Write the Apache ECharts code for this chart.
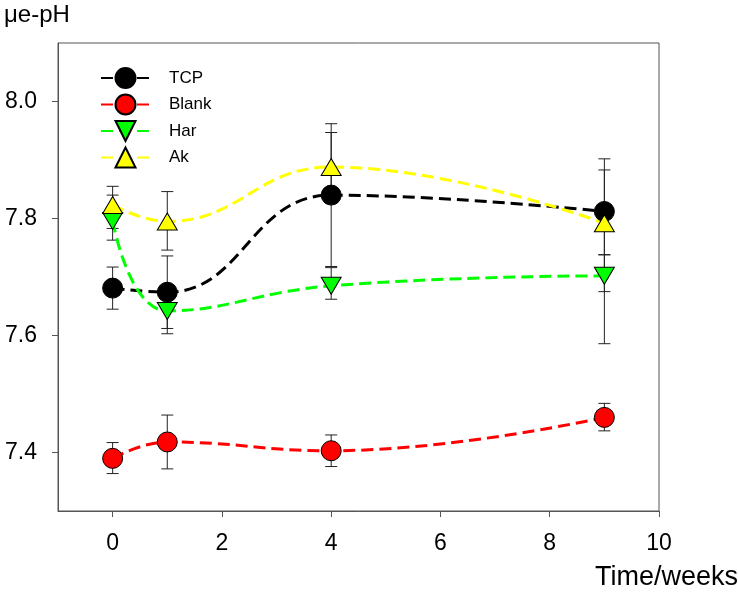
<!DOCTYPE html>
<html>
<head>
<meta charset="utf-8">
<script src="https://cdn.jsdelivr.net/npm/echarts@6/dist/echarts.min.js"></script>
<style>
  html, body { margin: 0; padding: 0; background: #fff; }
  #chart { width: 738px; height: 593px; }
</style>
</head>
<body>
<div id="chart"></div>
<script>
// time points (weeks)
const weeks = [0, 1, 4, 9]

// mean pH and error bar ends for each group
const tcpPH = [7.681, 7.674, 7.840, 7.812]
const tcpLow = [7.645, 7.612, 7.718, 7.738]
const tcpHigh = [7.717, 7.736, 7.962, 7.902]

const blankPH = [7.390, 7.418, 7.403, 7.460]
const blankLow = [7.364, 7.372, 7.376, 7.437]
const blankHigh = [7.417, 7.464, 7.430, 7.484]

const harPH = [7.796, 7.642, 7.685, 7.702]
const harLow = [7.763, 7.603, 7.662, 7.675]
const harHigh = [7.840, 7.680, 7.716, 7.738]

const akPH = [7.823, 7.795, 7.888, 7.792]
const akLow = [7.783, 7.746, 7.826, 7.586]
const akHigh = [7.855, 7.846, 7.947, 7.883]

const xTicks = [0, 2, 4, 6, 8, 10]
const yTicks = [7.4, 7.6, 7.8, 8.0]

const font = 'Liberation Sans, Arial, sans-serif'

const chart = echarts.init(document.getElementById('chart'))

// 误差线 (error bars) as custom series
const errorSeries = (low, high) => ({
  type: 'custom',
  z: 1,
  silent: true,
  data: weeks.map((w, i) => [w, low[i], high[i]]),
  encode: { x: 0, y: [1, 2] },
  renderItem: function (params, api) {
    const x = api.value(0)
    const pLo = api.coord([x, api.value(1)])
    const pHi = api.coord([x, api.value(2)])
    const hw = 6
    const style = { stroke: '#222', lineWidth: 1 }
    return {
      type: 'group',
      children: [
        { type: 'line', shape: { x1: pLo[0], y1: pLo[1], x2: pHi[0], y2: pHi[1] }, style },
        { type: 'line', shape: { x1: pLo[0] - hw, y1: pLo[1], x2: pLo[0] + hw, y2: pLo[1] }, style },
        { type: 'line', shape: { x1: pHi[0] - hw, y1: pHi[1], x2: pHi[0] + hw, y2: pHi[1] }, style }
      ]
    }
  }
})

const lineSeries = (name, values, color, symbol, size, rotate) => ({
  name,
  type: 'line',
  z: 3,
  data: weeks.map((w, i) => [w, values[i]]),
  smooth: 0.45,
  symbol,
  symbolSize: size,
  symbolRotate: rotate,
  showAllSymbol: true,
  lineStyle: { color, width: 3, type: [12, 6] },
  itemStyle: { color, borderColor: '#000', borderWidth: 1, opacity: 1 }
})

const option = {
  animation: false,
  backgroundColor: '#fff',
  grid: {
    left: 58,
    right: 79,
    top: 43,
    bottom: 82,
    show: true,
    borderColor: '#555',
    borderWidth: 1
  },
  legend: {
    orient: 'vertical',
    left: 95,
    top: 62,
    itemWidth: 49,
    itemHeight: 25,
    itemGap: 4.5,
    data: ['TCP', 'Blank', 'Har', 'Ak'],
    textStyle: {
      fontFamily: font,
      fontSize: 17,
      color: '#000',
      padding: [0, 0, 0, 14]
    }
  },
  xAxis: {
    type: 'value',
    min: -1,
    max: 10,
    axisLine: { onZero: false, lineStyle: { color: '#555', width: 1 } },
    axisTick: { show: true, inside: false, length: 6, customValues: xTicks, lineStyle: { color: '#555' } },
    axisLabel: {
      customValues: xTicks,
      margin: 21,
      fontFamily: font,
      fontSize: 23,
      color: '#000'
    },
    splitLine: { show: false }
  },
  yAxis: {
    type: 'value',
    min: 7.3,
    max: 8.1,
    axisLine: { show: true, onZero: false, lineStyle: { color: '#555', width: 1 } },
    axisTick: { show: true, inside: false, length: 6, customValues: yTicks, lineStyle: { color: '#555' } },
    axisLabel: {
      customValues: yTicks,
      margin: 21,
      fontFamily: font,
      fontSize: 23,
      color: '#000',
      formatter: v => v.toFixed(1)
    },
    splitLine: { show: false }
  },
  graphic: [
    {
      type: 'text',
      left: 4,
      top: 3,
      style: { text: 'μe-pH', font: '24px ' + font, fill: '#000' }
    },
    {
      type: 'text',
      right: 0,
      top: 564,
      style: { text: 'Time/weeks', font: '27px ' + font, fill: '#000' }
    }
  ],
  series: [
    errorSeries(tcpLow, tcpHigh),
    errorSeries(blankLow, blankHigh),
    errorSeries(harLow, harHigh),
    errorSeries(akLow, akHigh),
    lineSeries('TCP', tcpPH, '#000000', 'circle', 20, 0),
    lineSeries('Blank', blankPH, '#ff0000', 'circle', 20, 0),
    lineSeries('Har', harPH, '#00ff00', 'triangle', [20, 17], 180),
    lineSeries('Ak', akPH, '#ffff00', 'triangle', [20, 17], 0)
  ]
}

chart.setOption(option)
</script>
</body>
</html>
